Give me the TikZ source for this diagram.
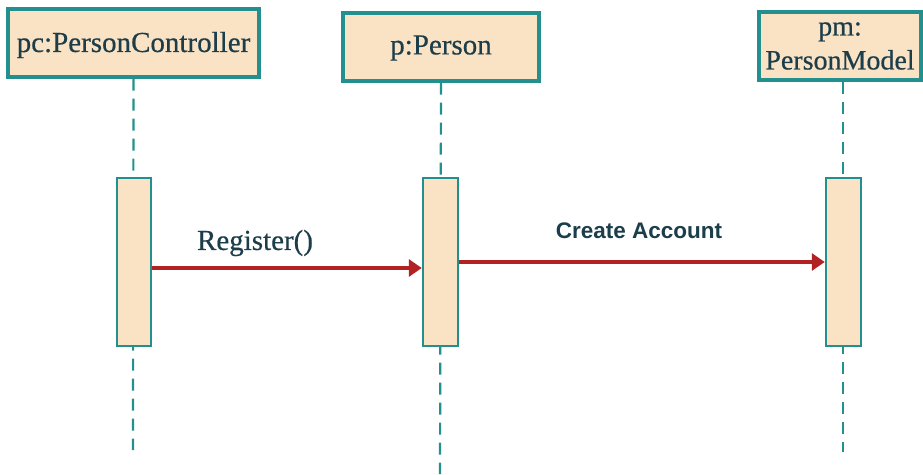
\documentclass[tikz,border=0pt]{standalone}
\usepackage{fontspec}
\setmainfont{Liberation Serif}
\newfontfamily\heavyserif[FakeBold=0.5]{Liberation Serif}
\newfontfamily\lsans{Liberation Sans}
\usetikzlibrary{arrows.meta}
\definecolor{teal1}{HTML}{23908F}
\definecolor{fillc}{HTML}{FAE3C5}
\definecolor{txt}{HTML}{1C3D4A}
\definecolor{arr}{HTML}{B22222}
\tikzset{
  objbox/.style={draw=teal1, line width=3.2pt, fill=fillc, text=txt, inner sep=0pt, align=center, font=\heavyserif\fontsize{29}{30}\selectfont},
  actbox/.style={draw=teal1, line width=2.5pt, fill=fillc, inner sep=0pt},
  life/.style={draw=teal1, line width=2.2pt, dash pattern=on 12pt off 8pt},
  msg/.style={draw=arr, line width=3.2pt, -{Triangle[length=13pt,width=17pt]}},
  lbl/.style={text=txt, inner sep=0pt}
}
\begin{document}
\begin{tikzpicture}[x=1pt,y=-1pt]
\useasboundingbox (0,0) rectangle (923,474);
% lifelines
\coordinate (l1) at (133,450);
\coordinate (l2) at (440,474);
\coordinate (l3) at (843,452);
\node[objbox, minimum width=251pt, minimum height=68pt] (pc) at (133.5,43) {};
\node[objbox, minimum width=196pt, minimum height=68pt] (p) at (441,47) {};
\node[objbox, minimum width=162pt, minimum height=68pt] (pm) at (840,46) {};
\node[lbl, font=\heavyserif\fontsize{29}{30}\selectfont] (pct) at (133.5,45) {pc:PersonController};
\node[lbl, font=\heavyserif\fontsize{29}{30}\selectfont] (pt) at (441,48) {p:Person};
\node[lbl, font=\heavyserif\fontsize{28}{34}\selectfont, align=center] (pmt) at (840,46) {pm:\\PersonModel};
\draw[life] (pc.south) -- (l1);
\draw[life] (p.south) -- (l2);
\draw[life] (pm.south -| l3) -- (l3);
% activations
\node[actbox, minimum width=34pt, minimum height=168pt] (a1) at (134,262) {};
\node[actbox, minimum width=35pt, minimum height=168pt] (a2) at (440.5,262) {};
\node[actbox, minimum width=35pt, minimum height=168pt] (a3) at (843.5,262) {};
% messages
\draw[msg] (a1.east |- 0,268) -- (a2.west |- 0,268);
\draw[msg] (a2.east |- 0,262) -- (a3.west |- 0,262);
\node[lbl, font=\heavyserif\fontsize{29}{30}\selectfont] (r) at (255,243) {Register()};
\node[lbl, font=\lsans\bfseries\fontsize{22.5}{24}\selectfont] (c) at (639,231) {Create Account};
\end{tikzpicture}
\end{document}
